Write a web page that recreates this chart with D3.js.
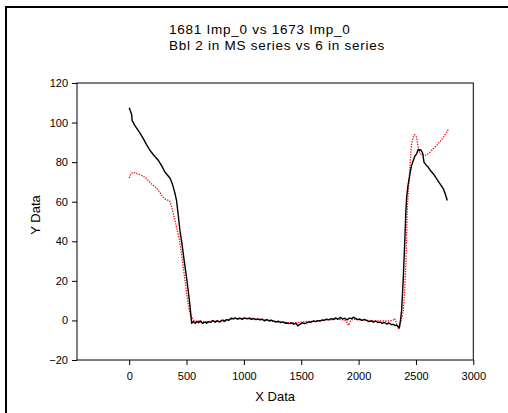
<!DOCTYPE html>
<html>
<head>
<meta charset="utf-8">
<script src="https://cdn.jsdelivr.net/npm/d3@7"></script>
<style>
  html, body { margin: 0; padding: 0; background: #fff; }
  svg { display: block; }
  text { font-family: Arial, "Liberation Sans", sans-serif; fill: #000; }
</style>
</head>
<body>
<svg id="chart" width="508" height="413"></svg>
<script>
// ---- data ----
const titleLines = ["1681 Imp_0 vs 1673 Imp_0", "Bbl 2 in MS series vs 6 in series"];
const xLabel = "X Data";
const yLabel = "Y Data";
const xTicks = [0, 500, 1000, 1500, 2000, 2500, 3000];
const yTicks = [-20, 0, 20, 40, 60, 80, 100, 120];
const xDomain = [-455, 3000];
const yDomain = [-20, 120];

// 1681 Imp_0 (black solid)
const blackX = [0,10,22,26,50,90,122,150,180,215,253,285,311,340,355,370,384,400,413,430,442,457,480,504,525,545,
  560,575,590,605,620,640,660,675,690,710,730,750,770,791,810,830,850,870,890,907,925,945,965,985,1005,1024,1045,1065,1085,1105,1125,1140,1160,1180,1200,1220,1240,1256,1280,1300,1320,1340,1360,1373,1395,1415,1435,1455,1470,1480,1495,1510,1530,1547,1565,1585,1605,1625,1645,1663,1680,1700,1720,1740,1760,1779,1800,1820,1840,1860,1880,1900,1920,1940,1954,1970,1990,2010,2030,2050,2070,2090,2110,2130,2150,2170,2186,2205,2225,2245,2265,2285,2302,2320,2335,2346,2355,
  2365,2375,2390,2404,2412,2419,2430,2448,2460,2477,2490,2506,2520,2530,2541,2550,2559,2565,2570,2590,2608,2630,2660,2681,2710,2739,2755,2773];
const blackY = [107.5,106,104,101,98.5,95,92,89,86,83.5,81,78,75,73,72,70,67.5,64,60.5,52,45.5,40,30,20,10,-1.5,
  -0.5,-1.5,-0.5,-1.2,-0.3,-1.5,-0.8,-1.4,-0.6,-1,0,-0.9,-0.2,-0.8,0.2,-0.5,0.4,0.1,1.2,0.8,1.3,0.6,1.2,0.5,1.3,0.8,1.1,0.6,0.9,0.4,0.7,0.3,0.6,-0.2,0.4,-0.3,0.1,-0.3,-0.8,-0.4,-1.1,-0.7,-1.4,-1.3,-1.6,-1.2,-1.9,-1.5,-2.8,-2.2,-1.8,-1.2,-1.6,-1.2,-0.7,-0.9,-0.3,-0.6,-0.1,-0.3,0.2,0,0.7,0.3,0.9,0.5,1.3,0.6,1.5,0.8,1.1,0.3,1.2,0.9,1.6,1.2,0.4,0.7,0,0.5,0,-0.6,-0.2,-0.9,-0.4,-1.1,-0.8,-1.5,-1.0,-1.8,-1.3,-2.1,-2.0,-2.6,-2.4,-3.4,-3.8,
  0,5,22,42,55,62.3,68,74.1,78,80.8,83,84.2,86.5,86,86.3,85.5,84.5,82,80,78.5,77.4,75.5,73.5,71.6,69,66.5,64,60.6];

// 1673 Imp_0 (red dotted)
const redX = [0,10,21,35,50,70,93,115,137,165,195,225,253,280,311,335,355,370,384,400,413,425,436,460,480,500,520,535,550,
  565,580,600,620,640,660,680,700,720,740,760,791,820,850,880,910,940,970,1000,1024,1050,1080,1110,1140,1170,1200,1230,1256,1290,1320,1350,1380,1410,1430,1460,1490,1520,1550,1580,1610,1640,1670,1700,1730,1760,1790,1820,1850,1880,1900,1912,1925,1940,1970,2000,2030,2060,2090,2120,2150,2180,2210,2240,2270,2290,2305,2315,2325,2335,2346,2355,
  2365,2380,2390,2400,2413,2424,2435,2442,2450,2462,2475,2485,2495,2506,2515,2520,2530,2541,2560,2578,2600,2622,2650,2681,2710,2739,2760,2782];
const redY = [72,73.5,74.4,74.8,74.7,74.2,73.7,73,72.4,70.8,69,67.5,66,63.5,61.4,60.8,60.3,57.5,54,50.5,47,44,41.3,32,23,14,6,2.5,1,
  0,-0.5,-0.2,-0.6,-0.3,-0.8,-0.5,-0.7,-0.3,-0.5,-0.1,-0.5,0.1,0.3,0.6,0.8,0.9,1.0,1.1,1.0,1.2,1.0,0.8,0.7,0.5,0.3,0.1,-0.4,-0.6,-0.8,-1.0,-1.1,-1.2,-1.3,-1.1,-0.9,-0.7,-0.6,-0.5,-0.4,-0.2,0,0.2,0.3,0.4,0.5,0.5,0.4,0.1,-1.0,-2.5,-0.8,0.3,0.6,0.3,0.1,0,0,-0.1,-0.2,-0.2,-0.3,-0.3,-0.2,-0.1,0.3,1.0,-0.5,-2.5,-4,-3.5,
  -1,2,5,14,30,55.6,67,72.4,80,89,92.5,93.8,93.6,92.6,89,87.5,85,84.2,83.4,83.3,84,85,86.8,88.4,90.5,92.6,94.5,96.5];

// ---- drawing ----
const svg = d3.select("#chart");
const L = 77, R = 473.3, T = 83, B = 360;

const x = d3.scaleLinear().domain(xDomain).range([L, R]);
const y = d3.scaleLinear().domain(yDomain).range([B, T]);

// outer border
svg.append("path")
  .attr("d", "M6,420V7H512")
  .attr("fill", "none").attr("stroke", "#000").attr("stroke-width", 2);

// title (two separate lines)
titleLines.forEach((t, i) => {
  svg.append("text").attr("font-size", 13.5).attr("letter-spacing", 0.75)
    .attr("x", 169).attr("y", 34 + i * 15.5).text(t);
});

// plot frame
svg.append("rect")
  .attr("x", L).attr("y", T).attr("width", R - L).attr("height", B - T)
  .attr("fill", "none").attr("stroke", "#000").attr("stroke-width", 1);

// axes
const xAxis = svg.append("g").attr("transform", `translate(0,${B})`)
  .call(d3.axisBottom(x).tickValues(xTicks).tickSize(5).tickPadding(7).tickFormat(d3.format("d")));
const yAxis = svg.append("g").attr("transform", `translate(${L},0)`)
  .call(d3.axisLeft(y).tickValues(yTicks).tickSize(5).tickPadding(4).tickFormat(d3.format("d")));
[xAxis, yAxis].forEach(g => {
  g.select(".domain").remove();
  g.selectAll("line").attr("stroke", "#000");
  g.selectAll("text").attr("font-size", 11).attr("font-family", "Arial, 'Liberation Sans', sans-serif").attr("fill", "#111");
});

// axis labels
svg.append("text").attr("x", (L + R) / 2).attr("y", 401).attr("text-anchor", "middle")
  .attr("font-size", 13).text(xLabel);
svg.append("text").attr("transform", "translate(39.5,215) rotate(-90)").attr("text-anchor", "middle")
  .attr("font-size", 13).text(yLabel);

// series
const line = d3.line().x(d => x(d[0])).y(d => y(d[1]));
const red = d3.zip(redX, redY);
const black = d3.zip(blackX, blackY);

svg.append("path").datum(red).attr("d", line)
  .attr("fill", "none").attr("stroke", "#ff0000").attr("stroke-width", 1.3)
  .attr("stroke-dasharray", "1.3,1.3");
svg.append("path").datum(black).attr("d", line)
  .attr("fill", "none").attr("stroke", "#000").attr("stroke-width", 1.4)
  .attr("stroke-linejoin", "round");
</script>
</body>
</html>
